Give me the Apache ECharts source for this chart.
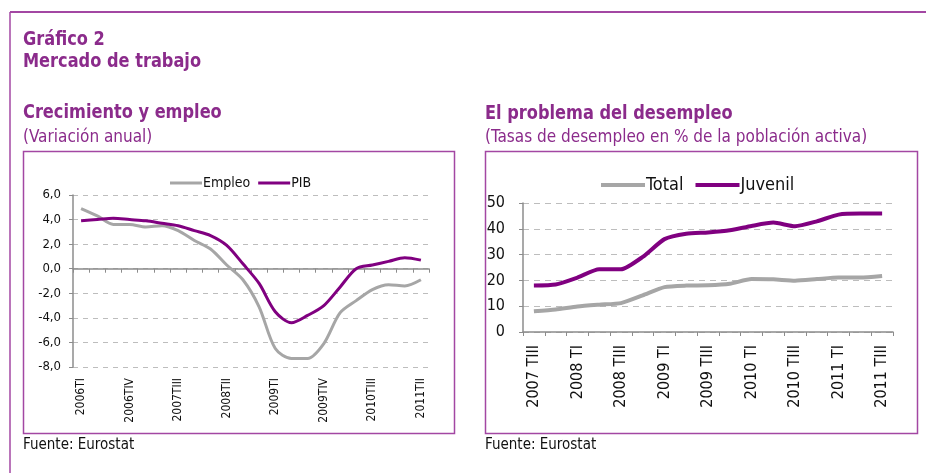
<!DOCTYPE html>
<html>
<head>
<meta charset="utf-8">
<script src="https://cdn.jsdelivr.net/npm/echarts@6/dist/echarts.min.js"></script>
<style>
  html, body { margin: 0; padding: 0; background: #fff; }
  #chart { width: 926px; height: 473px; }
</style>
</head>
<body>
<div id="chart"></div>
<script>
// left panel: Crecimiento y empleo (quarterly, 2006TI - 2011TII)
const quarters = ["2006TI", "2006TII", "2006TIII", "2006TIV", "2007TI", "2007TII", "2007TIII", "2007TIV",
  "2008TI", "2008TII", "2008TIII", "2008TIV", "2009TI", "2009TII", "2009TIII", "2009TIV",
  "2010TI", "2010TII", "2010TIII", "2010TIV", "2011TI", "2011TII"];
const empleo = [4.9, 4.3, 3.6, 3.6, 3.4, 3.5, 3.1, 2.3, 1.6, 0.3, -0.9, -3.1,
  -6.5, -7.3, -7.3, -6.1, -3.6, -2.6, -1.7, -1.3, -1.4, -0.9];
const pib = [3.9, 4.0, 4.1, 4.0, 3.9, 3.7, 3.5, 3.1, 2.7, 1.9, 0.4, -1.2,
  -3.5, -4.4, -3.8, -3.0, -1.5, 0.0, 0.3, 0.6, 0.9, 0.7];

// right panel: El problema del desempleo (2007 TIII - 2011 TIII)
const periods = ["2007 TIII", "2007 TIV", "2008 TI", "2008 TII", "2008 TIII", "2008 TIV",
  "2009 TI", "2009 TII", "2009 TIII", "2009 TIV", "2010 TI", "2010 TII", "2010 TIII",
  "2010 TIV", "2011 TI", "2011 TII", "2011 TIII"];
const total = [8.0, 8.7, 9.9, 10.6, 11.2, 14.2, 17.4, 18.0, 18.1, 18.7, 20.5, 20.4,
  19.9, 20.5, 21.1, 21.1, 21.7];
const juvenil = [18.0, 18.4, 21.1, 24.3, 24.3, 29.1, 36.0, 38.1, 38.6, 39.4, 41.1, 42.4,
  41.0, 42.9, 45.5, 45.9, 45.9];

const FONT = "'DejaVu Sans Condensed', 'Liberation Sans', sans-serif";
const TITLE_COLOR = "#8b2b8b";
const FRAME = "#a347a3";
const GRAY = "#a6a6a6";
const PURPLE = "#800080";
const AXIS = "#8c8c8c";

function txt(x, y, s, size, weight, color, sy) {
  return {
    type: "text",
    x: x,
    y: y,
    scaleY: sy || 1,
    style: {
      text: s,
      font: weight + " " + size + "px " + FONT,
      fill: color,
      verticalAlign: "middle",
    },
  };
}

const chart = echarts.init(document.getElementById("chart"));

chart.setOption({
  animation: false,
  textStyle: { fontFamily: FONT },
  graphic: [
    // outer frame (top + left only visible)
    { type: "line", shape: { x1: 10, y1: 12, x2: 926, y2: 12 }, style: { stroke: FRAME, lineWidth: 2 } },
    { type: "line", shape: { x1: 10, y1: 12, x2: 10, y2: 473 }, style: { stroke: FRAME, lineWidth: 1.5 } },
    // panel boxes
    { type: "rect", shape: { x: 23.5, y: 151.5, width: 431, height: 282 }, style: { fill: null, stroke: FRAME, lineWidth: 1.5 } },
    { type: "rect", shape: { x: 485.5, y: 151.5, width: 432, height: 282 }, style: { fill: null, stroke: FRAME, lineWidth: 1.5 } },
    txt(23, 40, "Gráfico 2", 18, "bold", TITLE_COLOR, 1.12),
    txt(23, 62, "Mercado de trabajo", 18, "bold", TITLE_COLOR, 1.12),
    txt(23, 113, "Crecimiento y empleo", 18, "bold", TITLE_COLOR, 1.12),
    txt(23, 138, "(Variación anual)", 17, "normal", TITLE_COLOR),
    txt(485, 114, "El problema del desempleo", 18, "bold", TITLE_COLOR, 1.12),
    txt(485, 138, "(Tasas de desempleo en % de la población activa)", 17, "normal", TITLE_COLOR),
    txt(23, 445, "Fuente: Eurostat", 15, "normal", "#111"),
    txt(485, 445, "Fuente: Eurostat", 15, "normal", "#111"),
  ],
  legend: [
    {
      data: ["Empleo", "PIB"],
      left: 165,
      top: 171,
      icon: "rect",
      itemWidth: 32,
      itemHeight: 3,
      itemGap: 8,
      textStyle: { fontFamily: FONT, fontSize: 14, color: "#111", padding: [0, 0, 0, -4] },
    },
    {
      data: ["Total", "Juvenil"],
      left: 596,
      top: 171,
      icon: "rect",
      itemWidth: 44,
      itemHeight: 4,
      itemGap: 12,
      textStyle: { fontFamily: FONT, fontSize: 18, color: "#111", padding: [0, 0, 0, -4] },
    },
  ],
  grid: [
    { left: 73, top: 195, width: 356, height: 172 },
    { left: 523, top: 203, width: 370, height: 129 },
  ],
  xAxis: [
    {
      // zero line with tick marks
      type: "category",
      gridIndex: 0,
      data: quarters,
      position: "bottom",
      boundaryGap: true,
      axisLine: { onZero: true, lineStyle: { color: AXIS, width: 1.5 } },
      axisTick: { show: true, interval: 0, length: 4, lineStyle: { color: AXIS } },
      axisLabel: { show: false },
    },
    {
      // labels at the bottom
      type: "category",
      gridIndex: 0,
      data: quarters,
      position: "bottom",
      boundaryGap: true,
      axisLine: { show: false, onZero: false },
      axisTick: { show: false },
      axisLabel: {
        interval: 2,
        rotate: 90,
        margin: 11,
        fontFamily: FONT,
        fontSize: 12,
        color: "#111",
      },
    },
    {
      type: "category",
      gridIndex: 1,
      data: periods,
      boundaryGap: true,
      axisLine: { lineStyle: { color: AXIS, width: 1.5 } },
      axisTick: { show: true, interval: 0, length: 4, lineStyle: { color: AXIS } },
      axisLabel: {
        interval: 1,
        rotate: 90,
        margin: 13,
        fontFamily: FONT,
        fontSize: 16,
        color: "#111",
      },
    },
  ],
  yAxis: [
    {
      type: "value",
      gridIndex: 0,
      min: -8,
      max: 6,
      interval: 2,
      axisLine: { show: true, lineStyle: { color: AXIS, width: 1.5 } },
      axisTick: { show: true, length: 4, lineStyle: { color: AXIS } },
      axisLabel: {
        fontFamily: FONT,
        fontSize: 13,
        color: "#111",
        margin: 12,
        formatter: (v) => v.toFixed(1).replace(".", ","),
      },
      splitLine: { show: true, lineStyle: { color: "#bdbdbd", type: [5, 5] } },
    },
    {
      type: "value",
      gridIndex: 1,
      min: 0,
      max: 50,
      interval: 10,
      axisLine: { show: true, lineStyle: { color: AXIS, width: 1.5 } },
      axisTick: { show: true, length: 4, lineStyle: { color: AXIS } },
      axisLabel: { fontFamily: FONT, fontSize: 16, color: "#111", margin: 18 },
      splitLine: { show: true, lineStyle: { color: "#bdbdbd", type: [6, 5] } },
    },
  ],
  series: [
    {
      name: "Empleo",
      type: "line",
      xAxisIndex: 0,
      yAxisIndex: 0,
      data: empleo,
      smooth: 0.3,
      symbol: "none",
      itemStyle: { color: GRAY },
      lineStyle: { color: GRAY, width: 3 },
    },
    {
      name: "PIB",
      type: "line",
      xAxisIndex: 0,
      yAxisIndex: 0,
      data: pib,
      smooth: 0.3,
      symbol: "none",
      itemStyle: { color: PURPLE },
      lineStyle: { color: PURPLE, width: 3 },
    },
    {
      name: "Total",
      type: "line",
      xAxisIndex: 2,
      yAxisIndex: 1,
      data: total,
      smooth: 0.2,
      symbol: "none",
      itemStyle: { color: GRAY },
      lineStyle: { color: GRAY, width: 4 },
    },
    {
      name: "Juvenil",
      type: "line",
      xAxisIndex: 2,
      yAxisIndex: 1,
      data: juvenil,
      smooth: 0.2,
      symbol: "none",
      itemStyle: { color: PURPLE },
      lineStyle: { color: PURPLE, width: 4 },
    },
  ],
});
</script>
</body>
</html>
